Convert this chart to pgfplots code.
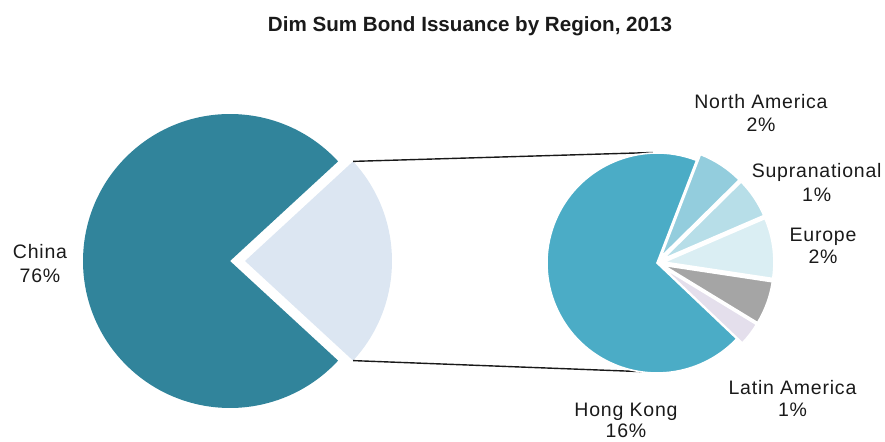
\documentclass[border=0pt]{standalone}
\usepackage{pgfplots}
\pgfplotsset{compat=1.18}
\usepackage{fontspec}
\setmainfont{Liberation Sans}
\newfontfamily\labfont[LetterSpace=4]{Liberation Sans}

\definecolor{china}{HTML}{31849B}
\definecolor{restc}{HTML}{DCE6F2}
\definecolor{hk}{HTML}{4BACC6}
\definecolor{na}{HTML}{93CDDD}
\definecolor{supra}{HTML}{B7DEE8}
\definecolor{europe}{HTML}{DAEEF3}
\definecolor{grayslice}{HTML}{A5A5A5}
\definecolor{latam}{HTML}{E4DFEC}
\definecolor{txt}{HTML}{1A1A1A}

\begin{document}
\begin{tikzpicture}
\begin{axis}[
    name=ax,
    scale only axis,
    width=442.5pt, height=220.5pt,
    xmin=0, xmax=885, ymin=0, ymax=441,
    hide axis, clip=false,
  ]
  % share of total issuance, %
  \def\china{76.3}
  \def\rest{23.7}
  % left pie: China, and the rest pulled out to the right
  \pgfmathsetmacro\ha{\rest*1.8}
  \pgfmathsetmacro\hb{360-\ha}
  \edef\tmp{\noexpand\fill[china] (axis cs:230,180) -- ++(\ha:73.5pt)
    arc[start angle=\ha, end angle=\hb, radius=73.5pt] -- cycle;
    \noexpand\fill[restc] (axis cs:245,180) -- ++(-\ha:73.5pt)
    arc[start angle=-\ha, end angle=\ha, radius=73.5pt] -- cycle;}
  \tmp
  % connector lines
  \pgfmathsetmacro\cx{245+147*cos(\ha)}
  \pgfmathsetmacro\cyt{180+147*sin(\ha)}
  \pgfmathsetmacro\cyb{180-147*sin(\ha)}
  \edef\tmp{\noexpand\draw[black!90, line width=0.7pt] (axis cs:\cx,\cyt) -- (axis cs:653,288.5);
    \noexpand\draw[black!90, line width=0.7pt] (axis cs:\cx,\cyb) -- (axis cs:651,69);}
  \tmp
  % right pie: breakdown of the rest
  \xdef\cum{68.9}
  \foreach \v/\col/\e in {16.3/hk/0, 0.8/latam/7, 1.5/grayslice/7,
      2.1/europe/7, 1.4/supra/7, 1.6/na/7}{
    \pgfmathsetmacro\angA{\cum}
    \pgfmathsetmacro\angB{\cum+\v*360/\rest}
    \pgfmathsetmacro\angM{(\angA+\angB)/2}
    \pgfmathsetmacro\ex{657+\e*cos(\angM)}
    \pgfmathsetmacro\ey{178+\e*sin(\angM)}
    \edef\tmp{\noexpand\fill[\col, draw=white, line width=0.8pt] (axis cs:\ex,\ey) -- ++(\angA:55pt)
      arc[start angle=\angA, end angle=\angB, radius=55pt] -- cycle;}
    \tmp
    \xdef\cum{\angB}
  }
  % title
  \node[anchor=base, font=\fontsize{10.3pt}{12pt}\selectfont\bfseries, text=txt]
    at (axis cs:470,409.3) {Dim Sum Bond Issuance by Region, 2013};
  % labels
  \tikzset{lab/.style={anchor=base, font=\labfont\fontsize{9.75pt}{11.5pt}\selectfont, text=txt, inner sep=0pt}}
  \node[lab] at (axis cs:40,182) {China};
  \node[lab] at (axis cs:40,158) {76\%};
  \node[lab] at (axis cs:761,332) {North America};
  \node[lab] at (axis cs:761,309.3) {2\%};
  \node[lab] at (axis cs:816.7,263.3) {Supranational};
  \node[lab] at (axis cs:816.7,239.3) {1\%};
  \node[lab] at (axis cs:823,199.3) {Europe};
  \node[lab] at (axis cs:823,177) {2\%};
  \node[lab] at (axis cs:792.5,47) {Latin America};
  \node[lab] at (axis cs:792.5,25) {1\%};
  \node[lab] at (axis cs:626,24.3) {Hong Kong};
  \node[lab] at (axis cs:626,3.5) {16\%};
\end{axis}
\pgfresetboundingbox
\path[use as bounding box] (ax.south west) rectangle (ax.north east);
\end{tikzpicture}
\end{document}
